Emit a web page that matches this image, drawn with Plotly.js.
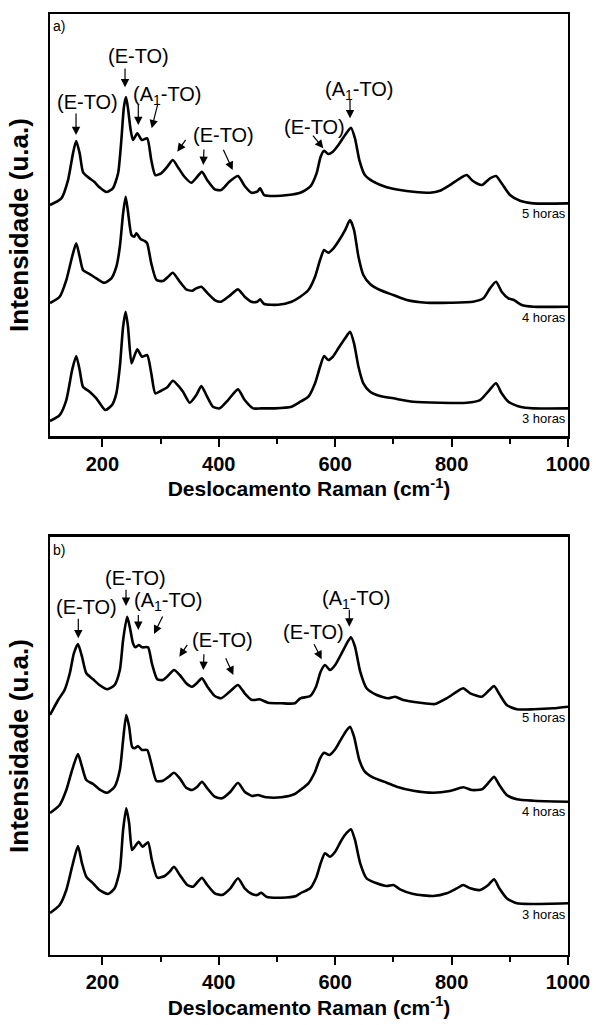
<!DOCTYPE html>
<html>
<head>
<meta charset="utf-8">
<script src="https://cdn.plot.ly/plotly-3.0.1.min.js"></script>
<style>html,body{margin:0;padding:0;background:#fff;}#chart{width:596px;height:1025px;}</style>
</head>
<body>
<div id="chart"></div>
<script>
// ---------- Panel a) ----------
const a5h_x = [110,129.5,141,149.5,155,161,166.7,175,186.5,195,207,218,227,232.6,237,240.6,244,248.6,252.6,260,268,277,284,291,301,311.6,321,331,341,352.8,363,371,380,393,404,418,433,444.5,456,466,471,478,496,519,540,557,568,575,581,588,596,605.5,617,627,634,641.5,651,665.6,688.5,711.4,734.3,763,780,797,814.5,826,836,852,866,876.4,886,900.4,917.6,940.5,1000];
const a5h_y = [231,237.7,256,282.7,295,282.7,264,259,254,248.7,244,247.7,262.7,296,329,339,327.7,306,296,302.7,296,297.7,276,261,262.7,269.3,276,267.7,259.3,253.3,259.3,264.3,256,246.7,246,254.3,260,250,243.3,244.3,247.7,241,240,241,243.3,249.3,262.7,279.3,285.3,282,284.3,291,301,308.3,297.7,276,261,254.3,248.7,246,244.3,243.3,245.3,251,257.7,261,255.3,251,257.7,260,252.7,241,235.3,232.7,232.7];

const a4h_x = [110,126.6,138,148,155,161,166.7,178,189.6,203,215.5,224,230,235.6,240,244,250,254.5,258.5,266,273,277,284,293,304,313,321,333,344,354,361,370,381,393,404,418,433,444.5,456,466,471,478,502,525,540,554,565.4,574,581,588,597,607,617,625.5,632.4,640,648.4,660,677,700,723,757,797,837,854.6,866,876.4,886,897.6,907,920.5,940.5,1000];
const a4h_y = [133,139.3,156,179.3,192.7,179.3,166,162,157.7,153.3,157.7,169.3,189.3,222.7,239.3,224.3,201,199.3,202.7,196.7,195,192.7,172.7,156,155,159.3,163.3,154.3,146.7,145.3,147.7,149.3,142.7,136,134.3,140,146.7,139.3,134.3,134.3,136.7,132,131.3,134.3,139.3,146,159.3,176,186,183.3,187.7,196,206,216,206,179.3,161,152,146,141,136,133.3,133.3,134.3,137.7,147.7,154.3,144.3,137.7,136,131,129.3,129.3];

const a3h_x = [110,126.6,138,148,155,161,166.7,178,189.6,205,216.5,224,230,235.6,240,244,250,254.5,260,268,277,284,291,301,311.6,321,331,338.5,350,361.4,370,378.6,390,401.5,416,433,444.5,459,473,496,525,540,554,565.4,574,581,588,596,605.5,617,625.5,632.4,640,648.4,660,677,700,734,780,826,849,865,876.4,886,897.6,917.6,940.5,1000];
const a3h_y = [15,21,36,66,80,66,49.3,44.3,37.7,26,31,42.7,69.3,109.3,124.3,109.3,72.7,79.3,86.7,79.3,81,62.7,42.7,45.3,48.7,55.3,50,44.3,33.3,41,50,41,29.3,27.7,36,46.7,36,27.7,27.7,27.7,29.3,34.3,39.3,52.7,69.3,80,76,79.3,87.7,97.7,104.3,92.7,69.3,52.7,44.3,40,37.7,34.3,33.3,33.3,36,46,52.7,42.7,34.3,29.3,27.7,27.7];

// ---------- Panel b) ----------
const b5h_x = [110,124,135,144,151,158,165,172.4,184,195,208.5,221,230,235.6,242.5,247,252.6,256.6,262.4,268.6,278.4,285,294.4,304,314,323,333,344,354,363,371,380.3,393,404,418.7,433,444.5,457,470,484.6,507.5,530.6,540,557,567,575,582.5,591,600,611,620,627,634,643,654,671.4,691,703,717,746,771.6,791.6,809,820,832,852,865,873,882,894.7,912,940.5,975,1000];
const b5h_y = [240,255,265,281.7,301.7,311,298.3,281.7,275.7,270,265.7,270,285,315,338.3,328.3,311.7,307.7,310,307.7,307.7,291.7,275.7,275,280,285,280,271.7,268.3,272.3,276.7,268.3,259,256.7,263.3,270,261.7,255,255.7,252.3,251.7,251.7,256.7,259,268.3,283.3,290,285,290,301.7,311.7,317.7,308.3,283.3,266.7,260,256.7,258.3,255,252.3,251,256.7,263.3,266.7,261.7,258.3,265,269,261,250,245.7,245.7,246.7,248.3];

const b4h_x = [110,126.6,138,148,158,165,172.4,184,195,208.5,221,230,235.6,241,246,251,255.5,261,268,277,284,293,304,314,323,333,344,354,363,371,380.3,393,405.5,420,433,444.5,457,467,481.7,507.5,530.6,540,554,565.4,574,581,590,600,611,620,625.5,632.4,641.5,651,665.6,688.5,705.7,734.3,768.7,797,820,834.6,852,865,873,882,894.7,912,940.5,1000];
const b4h_y = [142,150,165,185,201,188.3,175,171,165.7,162.3,168.3,185,215,240,228.3,208.3,206.7,209,205,205,191.7,174,174.3,178.3,182.3,176.7,167.3,165,168.3,173.3,166.7,158.3,156.7,163.3,172.3,163.3,159,160,157.7,157.7,161,165,171.7,183.3,196.7,202.3,200,205.7,216.7,225,228.3,218.3,195,183.3,177.3,172.3,168.3,164.3,162.3,164,167.7,165,165.7,173.3,178.3,170,160,155.7,154.3,153.3];

const b3h_x = [110,126.6,138,148,158,165,172.4,184,195,209.7,221,230,235.6,241,246,251,256.6,262.4,269,278.4,285,294.4,307,315.6,323,333,346,356,364,371,380.3,393,405.5,420,433,444.5,457,466,473,481.7,507.5,533,540,557,568,575,582.5,591,600,611,620,627,634,643,654,671.4,688.5,700,711.4,734.3,768.7,791.6,809,820,832,849,863,873,882,894.7,912,940.5,1000];
const b3h_y = [42,50,65,88.3,109,91.7,78.3,71.7,65,61,66.7,85,125,146.7,131.7,105,109,113.3,108.3,112.7,95,77.3,79,83.3,88.3,80,70,68.3,73.3,77.3,70,61.7,60,66.7,76.7,66.7,61,60,62.3,58.3,57.3,59,61.7,66.7,78.3,91.7,101.7,98.3,103.3,115,122.3,125.7,115,91.7,76.7,71.7,69,70,65.7,61,59,61.7,66.7,70,66.7,65,70,75.7,66.7,56.7,51.7,51,51.7];

const seriesNames = ['5 horas', '4 horas', '3 horas'];
const xTickVals = [200, 400, 600, 800, 1000];
const xTitle = 'Deslocamento Raman (cm<sup>-1</sup>)';
const yTitle = 'Intensidade (u.a.)';
const panelLabels = ['a)', 'b)'];

const FONT = 'Liberation Sans, Arial, Helvetica, sans-serif';
const lineStyle = {color: '#000', width: 2.6, shape: 'spline', smoothing: 0.6};

function tr(x, y, name, xa, ya) {
  return {x: x, y: y, name: name, type: 'scatter', mode: 'lines', line: lineStyle,
          xaxis: xa, yaxis: ya, hoverinfo: 'x+y', showlegend: false};
}
const data = [
  tr(a5h_x, a5h_y, seriesNames[0], 'x', 'y'),
  tr(a4h_x, a4h_y, seriesNames[1], 'x', 'y'),
  tr(a3h_x, a3h_y, seriesNames[2], 'x', 'y'),
  tr(b5h_x, b5h_y, seriesNames[0], 'x2', 'y2'),
  tr(b4h_x, b4h_y, seriesNames[1], 'x2', 'y2'),
  tr(b3h_x, b3h_y, seriesNames[2], 'x2', 'y2')
];

function xAxis(anchor) {
  return {
    domain: [0.0839, 0.953], range: [110, 1000], anchor: anchor,
    showline: true, mirror: true, linecolor: '#000', linewidth: 2.5,
    ticks: 'outside', ticklen: 8, tickwidth: 2, tickcolor: '#000',
    tickmode: 'array', tickvals: xTickVals,
    minor: {ticks: 'outside', ticklen: 5, tickwidth: 2, tickcolor: '#000', dtick: 100, tick0: 0, showgrid: false},
    tickfont: {family: FONT, size: 20, color: '#000', weight: 'bold'},
    showgrid: false, zeroline: false, automargin: false,
    title: {text: xTitle, font: {family: FONT, size: 21, color: '#000', weight: 'bold'}, standoff: 5}
  };
}
function yAxis(anchor, dom, top) {
  return {
    domain: dom, range: [0, top], anchor: anchor,
    showline: true, mirror: true, linecolor: '#000', linewidth: 2.5,
    ticks: '', showticklabels: false, showgrid: false, zeroline: false, automargin: false,
    title: {text: yTitle, font: {family: FONT, size: 26, color: '#000', weight: 'bold'}, standoff: 12}
  };
}

const ann = [];
function txt(xref, yref, x, y, text, size, xanchor) {
  ann.push({xref: xref, yref: yref, x: x, y: y, text: text, showarrow: false,
            xanchor: xanchor || 'center', yanchor: 'middle', borderpad: 0,
            font: {family: FONT, size: size, color: '#000'}});
}
function arr(xref, yref, x0, y0, x1, y1) {
  ann.push({xref: xref, yref: yref, axref: xref, ayref: yref, x: x1, y: y1, ax: x0, ay: y0,
            text: '', showarrow: true, arrowhead: 2, arrowsize: 1.4, arrowwidth: 1.2,
            arrowcolor: '#000', standoff: 0, startstandoff: 0});
}
const A1 = '(A<sub>1</sub>-TO)';
const ETO = '(E-TO)';
const LBL = 20;

// panel a annotations
txt('x', 'y', 113, 410, panelLabels[0], 14, 'left');
txt('x', 'y', 174, 334, ETO, LBL);
arr('x', 'y', 154.7, 324, 154.7, 301);
txt('x', 'y', 261.7, 380, ETO, LBL);
arr('x', 'y', 238.9, 369, 238.9, 348.7);
txt('x', 'y', 312, 341, A1, LBL);
arr('x', 'y', 261.7, 333, 261.7, 311);
arr('x', 'y', 296, 334, 284.7, 307.7);
txt('x', 'y', 407.8, 301, ETO, LBL);
arr('x', 'y', 344.9, 297.7, 328.7, 284.3);
arr('x', 'y', 374.6, 288, 373.4, 271);
arr('x', 'y', 406.7, 287.7, 423.9, 266);
txt('x', 'y', 563.6, 309.3, ETO, LBL);
arr('x', 'y', 559.7, 302, 579.6, 287.7);
txt('x', 'y', 641.5, 346, A1, LBL);
arr('x', 'y', 625.5, 337.7, 625.5, 317.7);
txt('x', 'y', 998, 223, seriesNames[0], 13, 'right');
txt('x', 'y', 998, 118.3, seriesNames[1], 13, 'right');
txt('x', 'y', 998, 18, seriesNames[2], 13, 'right');

// panel b annotations
txt('x2', 'y2', 113, 405, panelLabels[1], 14, 'left');
txt('x2', 'y2', 172.4, 347.7, ETO, LBL);
arr('x2', 'y2', 158.6, 337.7, 158.6, 316.7);
txt('x2', 'y2', 256.6, 377, ETO, LBL);
arr('x2', 'y2', 240.6, 366.7, 240.6, 349);
txt('x2', 'y2', 314, 353, A1, LBL);
arr('x2', 'y2', 261.7, 341.5, 261.7, 325);
arr('x2', 'y2', 304.7, 340, 288.7, 321);
txt('x2', 'y2', 406.7, 315, ETO, LBL);
arr('x2', 'y2', 347.6, 311.7, 332.2, 298.3);
arr('x2', 'y2', 374.6, 302.3, 373.4, 285);
arr('x2', 'y2', 410.7, 298.3, 425, 280);
txt('x2', 'y2', 562.4, 323.3, ETO, LBL);
arr('x2', 'y2', 562.4, 312.3, 576.8, 295.7);
txt('x2', 'y2', 637, 355, A1, LBL);
arr('x2', 'y2', 624.3, 346.7, 624.3, 328.3);
txt('x2', 'y2', 998, 237, seriesNames[0], 13, 'right');
txt('x2', 'y2', 998, 143.3, seriesNames[1], 13, 'right');
txt('x2', 'y2', 998, 40, seriesNames[2], 13, 'right');

const layout = {
  width: 596, height: 1025,
  margin: {l: 0, r: 0, t: 0, b: 0},
  paper_bgcolor: '#fff', plot_bgcolor: '#fff',
  showlegend: false,
  font: {family: FONT, color: '#000'},
  xaxis: xAxis('y'),
  yaxis: yAxis('x', [0.5746, 0.9863], 422),
  xaxis2: xAxis('y2'),
  yaxis2: yAxis('x2', [0.0683, 0.4761], 418),
  annotations: ann
};

Plotly.newPlot('chart', data, layout, {staticPlot: true, displayModeBar: false});
</script>
</body>
</html>
